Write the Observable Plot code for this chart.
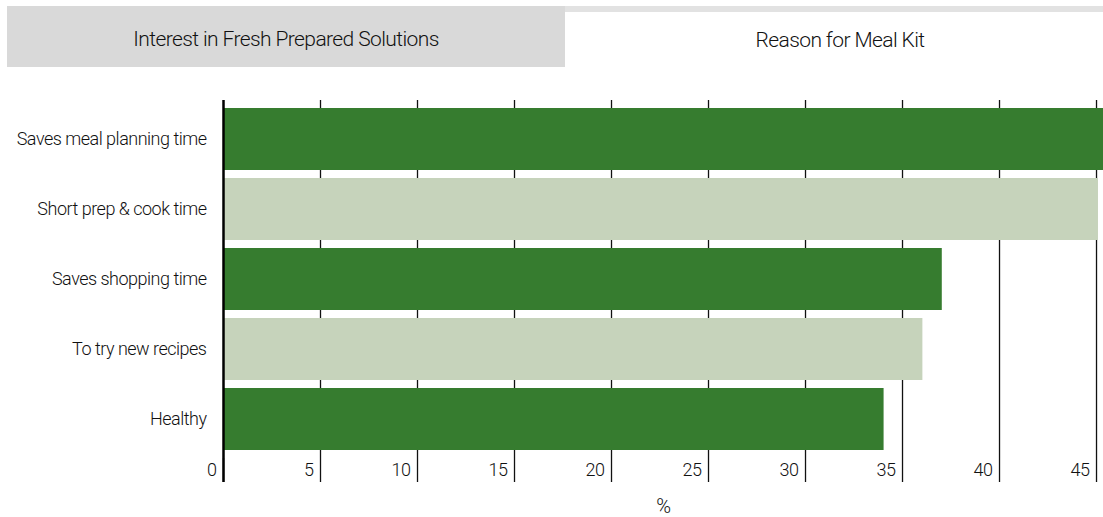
<!DOCTYPE html>
<html>
<head>
<meta charset="utf-8">
<script src="https://cdn.jsdelivr.net/npm/d3@7"></script>
<script src="https://cdn.jsdelivr.net/npm/@observablehq/plot@0.6"></script>
<style>
  body { margin: 0; background: #fff; font-family: Roboto, sans-serif; font-weight: 300; }
  .tabs { position: relative; height: 67px; margin-bottom: 23px; }
  .strip { position: absolute; left: 7px; right: 0; top: 6px; height: 6px; background: #e2e2e2; }
  .tab { position: absolute; top: 6px; height: 61px; display: flex; align-items: center; justify-content: center; font-size: 21px; color: #111; letter-spacing: -0.6px; }
  .tab.left { left: 7px; width: 558px; background: #d9d9d9; padding-top: 5px; box-sizing: border-box; }
  .tab.right { left: 565px; right: 0; top: 12px; height: 55px; background: #fff; padding-left: 12px; }
  #chart svg { display: block; }
  #chart svg text { font-weight: 300; letter-spacing: -0.5px; fill: #111; }
</style>
</head>
<body>
<div class="tabs">
  <div class="strip"></div>
  <div class="tab left">Interest in Fresh Prepared Solutions</div>
  <div class="tab right">Reason for Meal Kit</div>
</div>
<div id="chart"></div>
<script>
const categories = ["Saves meal planning time", "Short prep & cook time", "Saves shopping time", "To try new recipes", "Healthy"];
const values = [46, 45.1, 37.05, 36.05, 34.05];
const shades = ["dark", "light", "dark", "light", "dark"];
const xTicks = [0, 5, 10, 15, 20, 25, 30, 35, 40, 45];

const data = categories.map((c, i) => ({category: c, value: values[i], shade: shades[i]}));

const plot = Plot.plot({
  width: 1103,
  height: 427,
  marginTop: 10,
  marginBottom: 59,
  marginLeft: 223,
  marginRight: 0,
  style: {fontFamily: "Roboto, sans-serif", fontSize: "18px", color: "#111", background: "#fff"},
  x: {domain: [0, 45.36], label: null},
  y: {domain: categories, padding: 0.11, label: null},
  color: {domain: ["dark", "light"], range: ["#367c2f", "#c6d3bb"]},
  marks: [
    Plot.gridX(xTicks.slice(1), {stroke: "#111", strokeOpacity: 1, strokeWidth: 1.3}),
    Plot.barX(data, {y: "category", x: "value", fill: "shade", clip: true}),
    Plot.ruleX([0], {stroke: "#000", strokeWidth: 2.5}),
    Plot.axisX({ticks: xTicks, tickSize: 24, tickFormat: () => "", stroke: "#111", strokeWidth: 1.3, label: null}),
    Plot.axisX({ticks: [0], tickSize: 24, tickFormat: () => "", stroke: "#000", strokeWidth: 2.5, label: null}),
    Plot.axisX({
      ticks: xTicks, tickSize: 0, tickPadding: 12, lineAnchor: "middle",
      textAnchor: "end", dx: -7, fontSize: 18, label: null
    }),
    Plot.axisX({ticks: [], tickSize: 0, fontSize: 20, label: "%", labelAnchor: "center", labelArrow: "none", labelOffset: 54}),
    Plot.axisY({tickSize: 0, tickPadding: 17, fontSize: 18, label: null})
  ]
});
document.getElementById("chart").appendChild(plot);
</script>
</body>
</html>
